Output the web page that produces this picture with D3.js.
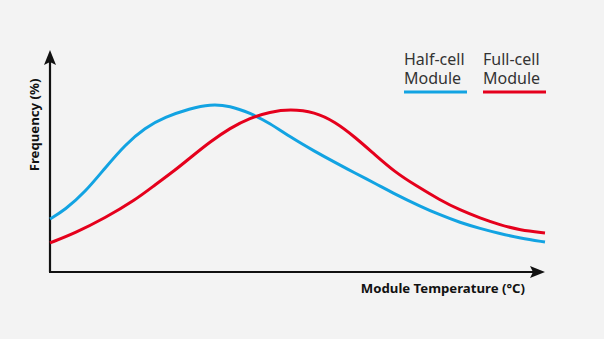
<!DOCTYPE html>
<html><head><meta charset="utf-8">
<script src="https://cdn.jsdelivr.net/npm/d3@7"></script>
<style>html,body{margin:0;padding:0;background:#f3f3f3;}svg{display:block;}</style>
</head><body>
<script>
// Data (relative units)
const halfTemp = [0, 3.0, 7.1, 11.1, 15.2, 19.2, 23.2, 28.3, 32.3, 36.4, 40.4, 44.4, 48.5, 53.5, 57.6, 61.6, 65.7, 69.7, 74.7, 78.8, 82.8, 86.9, 90.9, 94.9, 100];
const halfFreq = [23.9, 27.9, 36.0, 46.8, 57.4, 65.0, 69.8, 73.6, 75.6, 74.9, 71.6, 67.1, 60.8, 54.3, 49.3, 44.6, 39.9, 35.1, 29.7, 25.7, 22.3, 19.6, 17.3, 15.3, 13.5];
const fullTemp = [0, 5.1, 11.1, 17.2, 21.2, 25.3, 28.3, 32.3, 36.4, 40.4, 44.4, 48.5, 53.5, 57.6, 61.6, 65.7, 69.7, 73.7, 78.8, 82.8, 86.9, 90.9, 94.9, 100];
const fullFreq = [13.1, 17.6, 24.3, 32.4, 39.2, 45.9, 51.4, 58.6, 64.9, 69.4, 72.1, 73.4, 72.1, 67.6, 60.8, 52.7, 45.0, 39.2, 32.4, 27.9, 24.3, 21.2, 18.9, 17.6];
const seriesNames = [["Half-cell", "Module"], ["Full-cell", "Module"]];
const seriesColors = ["#12a3e2", "#e5001c"];
const xTitle = "Module Temperature (°C)";
const yTitle = "Frequency (%)";

const W = 604, H = 339;
const svg = d3.select("body").append("svg").attr("width", W).attr("height", H);
svg.append("rect").attr("width", W).attr("height", H).attr("fill", "#f3f3f3");

const x = d3.scaleLinear().domain([0, 100]).range([50, 545]);
const y = d3.scaleLinear().domain([0, 100]).range([272, 50]);

// axes
const ax = svg.append("g").attr("stroke", "#111").attr("stroke-width", 2.2);
ax.append("line").attr("x1", x(0)).attr("y1", y(0)).attr("x2", x(0)).attr("y2", y(100) + 12);
ax.append("line").attr("x1", x(0) - 1).attr("y1", y(0)).attr("x2", x(100) - 12).attr("y2", y(0));
svg.append("path").attr("fill", "#111")
  .attr("d", `M${x(0)},${y(100)} L${x(0) + 6},${y(100) + 15} L${x(0)},${y(100) + 12} L${x(0) - 6},${y(100) + 15} Z`);
svg.append("path").attr("fill", "#111")
  .attr("d", `M${x(100)},${y(0)} L${x(100) - 15},${y(0) - 6} L${x(100) - 12},${y(0)} L${x(100) - 15},${y(0) + 6} Z`);

const line = d3.line().x(d => x(d[0])).y(d => y(d[1])).curve(d3.curveBasis);
const series = [d3.zip(halfTemp, halfFreq), d3.zip(fullTemp, fullFreq)];
svg.selectAll("path.s").data(series).enter().append("path").attr("class", "s")
  .attr("d", line).attr("fill", "none")
  .attr("stroke", (d, i) => seriesColors[i]).attr("stroke-width", 3);

// legend
const lx = [404, 483];
seriesNames.forEach((names, i) => {
  const g = svg.append("g");
  const t = g.append("text")
    .attr("font-family", "Noto Sans, Open Sans, sans-serif").attr("font-size", 16)
    .attr("fill", "#333");
  names.forEach((s, j) => {
    t.append("tspan").attr("x", lx[i]).attr("y", 65 + j * 19).text(s);
  });
  g.append("line").attr("x1", lx[i]).attr("x2", lx[i] + 63).attr("y1", 92).attr("y2", 92)
    .attr("stroke", seriesColors[i]).attr("stroke-width", 3);
});

// titles
svg.append("text").attr("x", 525).attr("y", 293).attr("text-anchor", "end")
  .attr("font-family", "Noto Sans, Open Sans, sans-serif").attr("font-weight", "bold")
  .attr("font-size", 13.2).attr("fill", "#111").text(xTitle);
svg.append("text").attr("transform", "translate(39,125) rotate(-90)").attr("text-anchor", "middle")
  .attr("font-family", "Noto Sans, Open Sans, sans-serif").attr("font-weight", "bold")
  .attr("font-size", 13.2).attr("fill", "#111").text(yTitle);
</script>
</body></html>
